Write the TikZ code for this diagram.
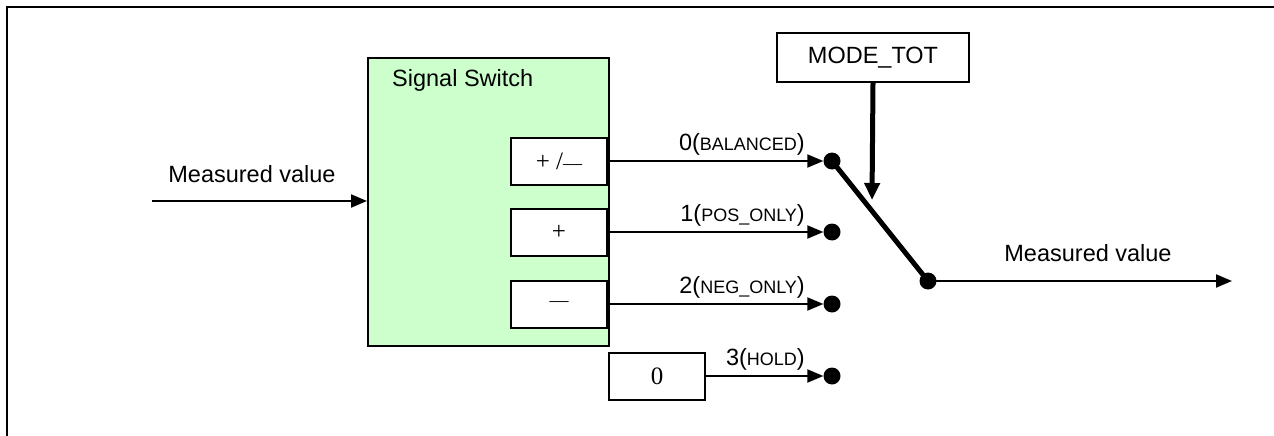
\documentclass[tikz,border=0pt]{standalone}
\usepackage{fontspec}
\setmainfont{Liberation Sans}
\newfontfamily\serifgl{Liberation Serif}
\usetikzlibrary{arrows.meta}
\newcommand\modelab[2]{#1(\fontsize{18}{20}\selectfont #2\fontsize{23.5}{28}\selectfont)}
\tikzset{
  frameline/.style={line width=2.5pt},
  blk/.style={draw, line width=2pt, inner sep=0pt, fill=white},
  conn/.style={line width=2pt, -{Triangle[length=16pt,width=13pt]}},
  bigtxt/.style={font=\fontsize{23.5}{28}\selectfont, inner sep=0pt},
  lbltxt/.style={font=\fontsize{23.5}{28}\selectfont, inner sep=0pt, anchor=base east},
  dotnode/.style={circle, fill=black, inner sep=0pt, minimum size=17pt},
}
\begin{document}
\begin{tikzpicture}[x=1pt,y=-1pt]
\useasboundingbox (0,0) rectangle (1274,436);
% frame (only top and left edges visible)
\draw[frameline] (7,436) -- (7,7) -- (1274,7);

% signal switch block
\node[draw, line width=2pt, fill={rgb,255:red,204;green,255;blue,204}, minimum width=241pt, minimum height=288pt, inner sep=0pt, anchor=north west] (sw) at (367,57) {};
\node[bigtxt, anchor=base west] (swt) at (392,86) {Signal Switch};

% inner boxes
\node[blk, minimum width=96pt, minimum height=47pt, anchor=east] (b0) at (608,161) {\serifgl\fontsize{25}{28}\selectfont +\ /\fontsize{19}{20}\selectfont—};
\node[blk, minimum width=96pt, minimum height=47pt, anchor=east] (b1) at (608,232) {\serifgl\fontsize{25}{28}\selectfont +};
\node[blk, minimum width=96pt, minimum height=47pt, anchor=east] (b2) at (608,304) {\serifgl\fontsize{19}{20}\selectfont —};
\node[blk, minimum width=96pt, minimum height=47pt, anchor=west] (b3) at (608,376) {\serifgl\fontsize{25}{28}\selectfont 0};

% dots
\node[dotnode] (d0) at (832,161) {};
\node[dotnode] (d1) at (832,232) {};
\node[dotnode] (d2) at (832,304) {};
\node[dotnode] (d3) at (832,376) {};
\node[dotnode] (dout) at (928,281) {};

% row connectors
\draw[conn] (b0.east) -- (d0.west);
\draw[conn] (b1.east) -- (d1.west);
\draw[conn] (b2.east) -- (d2.west);
\draw[conn] (b3.east) -- (d3.west);

% row labels
\node[lbltxt] (l0) at (805,150) {\modelab{0}{BALANCED}};
\node[lbltxt] (l1) at (805,221) {\modelab{1}{POS\_ONLY}};
\node[lbltxt] (l2) at (805,293) {\modelab{2}{NEG\_ONLY}};
\node[lbltxt] (l3) at (805,365) {\modelab{3}{HOLD}};

% switch lever
\draw[line width=5pt] (d0.center) -- (dout.center);

% MODE_TOT
\node[blk, minimum width=192pt, minimum height=49pt, anchor=north west, font=\fontsize{23.5}{28}\selectfont] (mode) at (776,32) {MODE\_TOT};
\coordinate (mtip) at (872,200);
\draw[line width=5pt, -{Triangle[length=17pt,width=15pt]}] (mode.south) -- (mtip);

% input
\coordinate (inp) at (152,201);
\draw[conn] (inp) -- (inp -| sw.west);
\node[bigtxt] (inl) at (252,174) {Measured value};

% output
\coordinate (outp) at (1232,281);
\draw[conn] (dout.center) -- (outp);
\node[bigtxt] (outl) at (1088,253) {Measured value};
\end{tikzpicture}
\end{document}
